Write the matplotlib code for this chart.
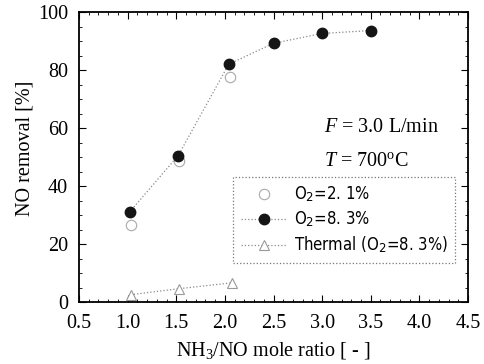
import matplotlib
matplotlib.use("Agg")
import matplotlib.pyplot as plt
from matplotlib.ticker import MultipleLocator, FormatStrFormatter

x_o2_21 = [1.03, 1.53, 2.05]
y_o2_21 = [26.5, 48.5, 77.5]
x_o2_83 = [1.02, 1.52, 2.04, 2.5, 3.0, 3.5]
y_o2_83 = [31.0, 50.5, 82.0, 89.2, 92.6, 93.6]
x_thermal = [1.03, 1.53, 2.07]
y_thermal = [2.5, 4.6, 6.6]

plt.rcParams['font.family'] = ['Liberation Serif', 'DejaVu Serif']
plt.rcParams['mathtext.fontset'] = 'custom'
plt.rcParams['mathtext.rm'] = 'Liberation Serif'
plt.rcParams['mathtext.it'] = 'Liberation Serif:italic'
plt.rcParams['mathtext.sf'] = 'DejaVu Sans'

fig = plt.figure(figsize=(4.84, 3.64), dpi=100)
ax = fig.add_axes([79/484, 1-302/364, (468-79)/484, (302-12)/364])

lc = '#8a8a8a'
ax.plot(x_o2_21, y_o2_21, ls='none', marker='o', ms=7.5,
        mfc='white', mec='#aaaaaa', mew=0.8, label='O$_\\mathsf{2}$=2. 1%')
ax.plot(x_o2_83, y_o2_83, ls=':', color=lc, lw=0.9, marker='o', ms=7.5,
        mfc='#151515', mec='#151515', label='O$_\\mathsf{2}$=8. 3%')
ax.plot(x_thermal, y_thermal, ls=':', color=lc, lw=0.9, marker='^', ms=7,
        mfc='white', mec='#999999', mew=0.8, label='Thermal (O$_\\mathsf{2}$=8. 3%)')

ax.set_xlim(0.5, 4.5)
ax.set_ylim(0, 100)
ax.xaxis.set_major_locator(MultipleLocator(0.5))
ax.xaxis.set_minor_locator(MultipleLocator(0.1))
ax.yaxis.set_major_locator(MultipleLocator(20))
ax.yaxis.set_minor_locator(MultipleLocator(5))
ax.xaxis.set_major_formatter(FormatStrFormatter('%.1f'))
ax.tick_params(which='both', direction='in', top=True, right=True, labelsize=14.5)
ax.tick_params(axis='x', which='major', pad=9)
ax.tick_params(axis='y', which='major', pad=8)
ax.tick_params(which='major', length=5, width=0.8)
ax.tick_params(which='minor', length=2.5, width=0.6)
for s in ax.spines.values():
    s.set_linewidth(1.3)

ax.set_xlabel('NH$_3$/NO mole ratio [ - ]', fontsize=14.5, labelpad=5)
ax.set_ylabel('NO removal [%]', fontsize=14.5)
ax.yaxis.set_label_coords(-0.115, 0.53)

ax.text(0.63, 0.603, '$F$ = 3.0 L/min', transform=ax.transAxes, fontsize=14.5,
        ha='left', va='center')
ax.text(0.63, 0.485, '$T$ = 700$^{\\mathrm{o}}$C', transform=ax.transAxes, fontsize=14.5,
        ha='left', va='center')

leg = ax.legend(loc='upper left', bbox_to_anchor=(0.396, 0.431),
                prop={'family': 'DejaVu Sans', 'size': 12, 'stretch': 'condensed'},
                frameon=True, fancybox=False, edgecolor='#555555',
                handlelength=2.8, handletextpad=0.4, borderpad=0.45, labelspacing=0.35,
                borderaxespad=0)
leg.get_frame().set_linestyle(':')
leg.get_frame().set_linewidth(0.9)

fig.savefig('out.png', dpi=100)
